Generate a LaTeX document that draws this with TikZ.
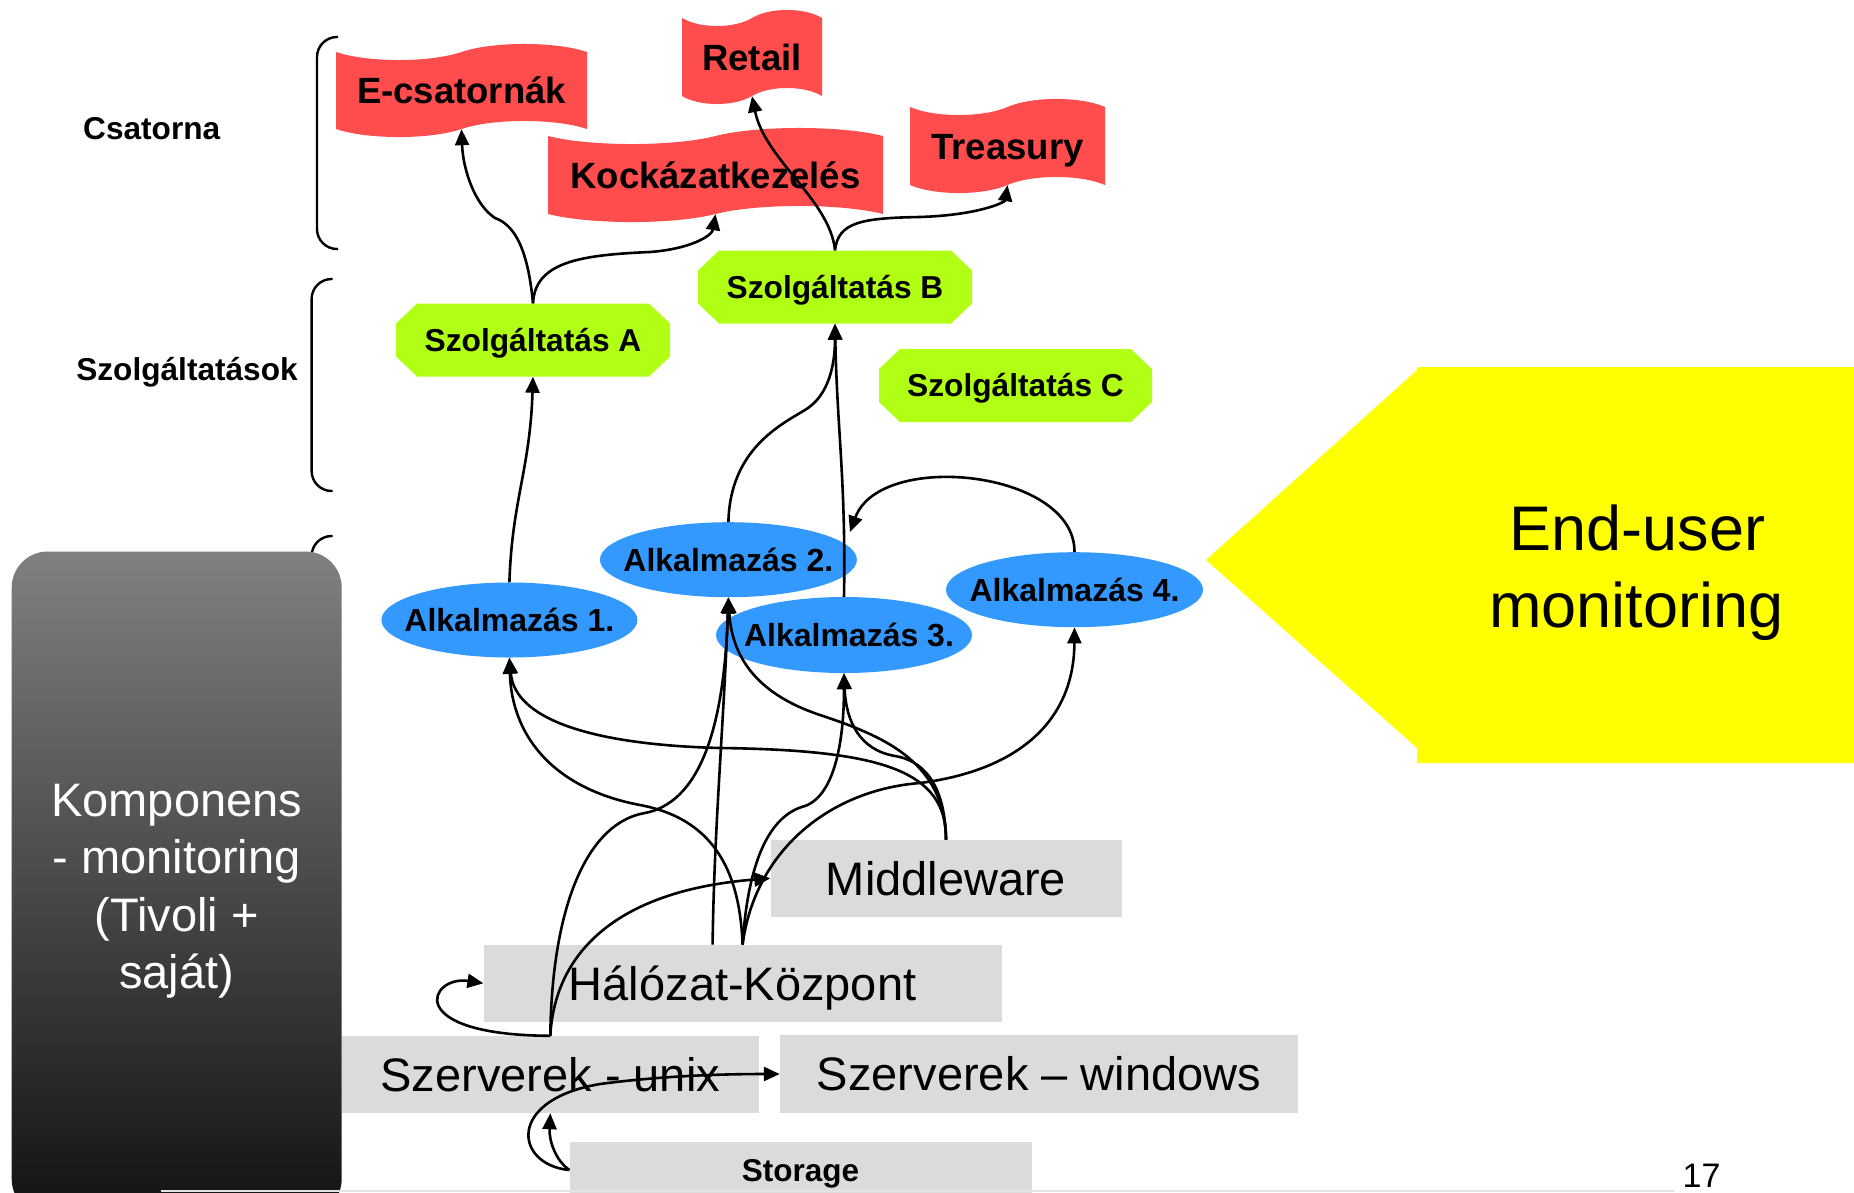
\documentclass[tikz,border=0pt]{standalone}
\usepackage{fontspec}
\setmainfont{Liberation Sans}
\usetikzlibrary{arrows.meta,shapes.geometric,calc}

\definecolor{flagred}{RGB}{255,76,76}
\definecolor{svcgreen}{RGB}{176,255,20}
\definecolor{appblue}{RGB}{51,153,255}
\definecolor{boxgray}{RGB}{219,219,219}
\definecolor{eumyellow}{RGB}{255,255,0}
\definecolor{rulegray}{RGB}{228,228,228}
\definecolor{compTop}{RGB}{128,128,128}
\definecolor{compBot}{RGB}{18,18,18}

% wavy "punched tape" banner with a named text node on top
% #1 name, #2 cx, #3 cy, #4 width, #5 height, #6 text
\newcommand\flagnode[6]{%
  \fill[flagred]
    ({#2-#4/2},{#3-#5/2})
    .. controls ({#2-#4*3/8},{#3-#5/2+10.7}) and ({#2-#4/8},{#3-#5/2+10.7}) .. ({#2},{#3-#5/2})
    .. controls ({#2+#4/8},{#3-#5/2-10.7}) and ({#2+#4*3/8},{#3-#5/2-10.7}) .. ({#2+#4/2},{#3-#5/2})
    -- ({#2+#4/2},{#3+#5/2})
    .. controls ({#2+#4*3/8},{#3+#5/2-10.7}) and ({#2+#4/8},{#3+#5/2-10.7}) .. ({#2},{#3+#5/2})
    .. controls ({#2-#4/8},{#3+#5/2+10.7}) and ({#2-#4*3/8},{#3+#5/2+10.7}) .. ({#2-#4/2},{#3+#5/2})
    -- cycle;
  \node[flagtxt, minimum width=#4pt, minimum height=#5pt] (#1) at (#2,#3) {#6};
}

% octagonal service box
% #1 name, #2 cx, #3 cy, #4 width, #5 text
\newcommand\svcnode[5]{%
  \fill[svcgreen]
    ({#2-#4/2+21},{#3-36.5}) -- ({#2+#4/2-21},{#3-36.5}) -- ({#2+#4/2},{#3-16.5})
    -- ({#2+#4/2},{#3+16.5}) -- ({#2+#4/2-21},{#3+36.5}) -- ({#2-#4/2+21},{#3+36.5})
    -- ({#2-#4/2},{#3+16.5}) -- ({#2-#4/2},{#3-16.5}) -- cycle;
  \node[svctxt, minimum width=#4pt, minimum height=73pt] (#1) at (#2,#3) {#5};
}

\begin{document}
\begin{tikzpicture}[x=1pt,y=-1pt,
  conn/.style={line width=2.6pt, line join=round, -{Triangle[length=16pt,width=14pt]}},
  brk/.style={line width=2.4pt, rounded corners=20pt},
  flagtxt/.style={inner sep=0pt, font=\fontsize{36.5}{44}\selectfont\bfseries, text height=26.1pt, text depth=0pt},
  svctxt/.style={inner sep=0pt, font=\fontsize{31.7}{38}\selectfont\bfseries, text height=22.7pt, text depth=0pt},
  appnode/.style={ellipse, fill=appblue, inner sep=0pt},
  apptxt/.style={inner sep=0pt, font=\fontsize{32}{38}\selectfont\bfseries, text height=22.9pt, text depth=0pt},
  graybox/.style={rectangle, fill=boxgray, inner sep=0pt, font=\fontsize{47}{56}\selectfont, text height=33.7pt, text depth=0pt},
  storebox/.style={graybox, font=\fontsize{31.5}{38}\selectfont\bfseries, text height=22.6pt},
  sidelbl/.style={inner sep=0pt, font=\fontsize{31.6}{38}\selectfont\bfseries, text height=22.6pt, text depth=0pt},
  comptxt/.style={inner sep=0pt, text=white, font=\fontsize{47}{56}\selectfont, anchor=base},
  eumtxt/.style={inner sep=0pt, font=\fontsize{63}{76}\selectfont, anchor=base},
  pagenum/.style={inner sep=0pt, font=\fontsize{34}{40}\selectfont, anchor=base}]

\fill[white] (0,0) rectangle (1854,1192);
\useasboundingbox (0,0) rectangle (1854,1192);
\clip (0,0) rectangle (1854,1192);

% layer brackets
\draw[brk] (338,37) -- (317,37) -- (317,249) -- (338,249);
\draw[brk] (332.6,279) -- (311.6,279) -- (311.6,491) -- (332.6,491);
\draw[brk] (332.6,536) -- (311.6,536) -- (311.6,748) -- (332.6,748);

\node[sidelbl] (lblch) at (151.7,128) {Csatorna};
\node[sidelbl] (lblsv) at (187,369) {Szolgáltatások};

% channels
\flagnode{ec}{461.5}{90.5}{251}{77}{E-csatornák}
\flagnode{rt}{752}{57}{140}{78}{Retail}
\flagnode{kk}{715.5}{175}{335}{78}{Kockázatkezelés}
\flagnode{tr}{1007.5}{146}{195}{78}{Treasury}

% services
\svcnode{svA}{533}{340}{274}{Szolgáltatás A}
\svcnode{svB}{835}{287}{274}{Szolgáltatás B}
\svcnode{svC}{1015.5}{385.5}{273}{Szolgáltatás C}

% applications
\node[appnode, minimum width=256pt, minimum height=75pt, label={[apptxt]center:Alkalmazás 1.}] (app1) at (509.4,620) {};
\node[appnode, minimum width=257pt, minimum height=75pt, label={[apptxt]center:Alkalmazás 2.}] (app2) at (728.4,559.7) {};
\node[appnode, minimum width=256pt, minimum height=76pt, label={[apptxt, xshift=5pt]center:Alkalmazás 3.}] (app3) at (844,635) {};
\node[appnode, minimum width=257pt, minimum height=75pt, label={[apptxt]center:Alkalmazás 4.}] (app4) at (1074.5,589.7) {};

% infrastructure
\node[graybox, minimum width=351pt, minimum height=77pt] (mw) at (946,878.3) {Middleware};
\node[graybox, minimum width=518pt, minimum height=77pt] (hk) at (742.6,983.3) {Hálózat-Központ};
\node[graybox, minimum width=417.5pt, minimum height=77pt] (ux) at (550.3,1074.5) {Szerverek - unix};
\node[graybox, minimum width=518pt, minimum height=78pt] (win) at (1039,1074) {Szerverek – windows};
\node[storebox, minimum width=462pt, minimum height=56pt] (st) at (800.6,1170) {Storage};

% end-user monitoring arrow
\fill[eumyellow] (1206,560) -- (1417,370) -- (1417,367) -- (1854,367) -- (1854,763)
  -- (1417,763) -- (1417,748) -- cycle;
\node[eumtxt] (eum1) at (1637.6,550.7) {End-user};
\node[eumtxt] (eum2) at (1636.5,627) {monitoring};

% services -> channels
\draw[conn] (svA.north) .. controls (528,250) and (515,225) .. (495,218)
  .. controls (475,205) and (463,170) .. (ec.south);
\draw[conn] (svA.north) .. controls (535,262) and (580,255) .. (650,252)
  .. controls (690,249) and (712,236) .. (kk.south);
\draw[conn] (svB.north) .. controls (830,200) and (765,160) .. (rt.south);
\draw[conn] (svB.north) .. controls (838,222) and (862,218) .. (920,217)
  .. controls (980,215) and (1005,202) .. (tr.south);

% applications -> services
\draw[conn] (app1.north) .. controls (512,500) and (530,470) .. (svA.south);
\draw[conn] (app2.north) .. controls (730,450) and (780,425) .. (805,410)
  .. controls (830,395) and (835,362) .. (svB.south);
\draw[conn] (app3.north) .. controls (846,480) and (837,430) .. (svB.south);
\coordinate (app3in) at (850,532);
\draw[conn] (app4.north) .. controls (1075,470) and (880,450) .. (app3in);

% infrastructure -> applications
\coordinate (hkA) at ($(hk.north)+(-30,0)$);
\draw[conn] (mw.north) .. controls (947,770) and (880,750) .. (720,748)
  .. controls (600,745) and (515,722) .. (app1.south);
\draw[conn] (hk.north) .. controls (740,880) and (720,820) .. (640,805)
  .. controls (560,790) and (512,742) .. (app1.south);
\draw[conn] (ux.north) .. controls (552,900) and (590,822) .. (645,813)
  .. controls (710,800) and (725,700) .. (app2.south);
\draw[conn] (hkA) .. controls (714,830) and (724,720) .. (app2.south);
\draw[conn] (mw.north) .. controls (945,760) and (880,735) .. (820,715)
  .. controls (760,695) and (732,660) .. (app2.south);
\draw[conn] (mw.north) .. controls (945,780) and (920,760) .. (895,756)
  .. controls (860,750) and (846,722) .. (app3.south);
\draw[conn] (hk.north) .. controls (748,860) and (770,815) .. (805,806)
  .. controls (835,795) and (844,740) .. (app3.south);
\draw[conn] (hk.north) .. controls (755,850) and (830,790) .. (920,783)
  .. controls (1020,770) and (1074,720) .. (app4.south);

% links among infrastructure
\draw[conn] (ux.north) .. controls (400,1035) and (430,975) .. (hk.west);
\draw[conn] (ux.north) .. controls (555,950) and (620,890) .. (mw.west);
\draw[conn] (st.west) .. controls (555,1160) and (549,1140) .. (ux.south);
\draw[conn] (st.west) .. controls (515,1165) and (505,1100) .. (600,1084)
  .. controls (660,1076) and (720,1074) .. (win.west);

% component monitoring panel
\path[rounded corners=36pt, top color=compTop, bottom color=compBot]
  (11.7,551.5) rectangle (341.7,1215);
\node[comptxt] (cl1) at (176.7,816) {Komponens};
\node[comptxt] (cl2) at (176.7,873.5) {- monitoring};
\node[comptxt] (cl3) at (176.7,931) {(Tivoli +};
\node[comptxt] (cl4) at (176.7,988.5) {saját)};

% footer
\draw[rulegray, line width=2pt] (161,1190.5) -- (1675,1190.5);
\node[pagenum] (pg) at (1701.5,1187) {17};

\end{tikzpicture}
\end{document}
